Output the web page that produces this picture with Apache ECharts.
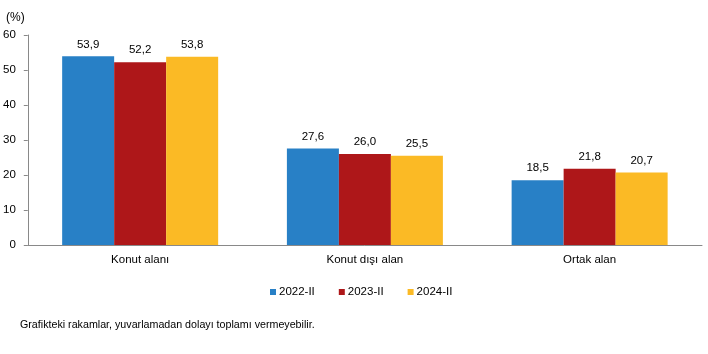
<!DOCTYPE html>
<html>
<head>
<meta charset="utf-8">
<script src="https://cdn.jsdelivr.net/npm/echarts@6/dist/echarts.min.js"></script>
<style>
  html, body { margin: 0; padding: 0; background: #fff; }
  #chart { width: 708px; height: 354px; }
</style>
</head>
<body>
<div id="chart"></div>
<script>
const kategoriler = ['Konut alanı', 'Konut dışı alan', 'Ortak alan'];
const donem2022 = [53.9, 27.6, 18.5];
const donem2023 = [52.2, 26.0, 21.8];
const donem2024 = [53.8, 25.5, 20.7];
const yTicks = [0, 10, 20, 30, 40, 50, 60];

const renkler = ['#2880C6', '#AE1719', '#FBBA25'];
const yaziTipi = 'Liberation Sans, Arial, sans-serif';

let grafik = echarts.init(document.getElementById('chart'));

const etiket = {
    show: true,
    position: 'top',
    distance: 6,
    color: '#000',
    fontFamily: yaziTipi,
    fontSize: 11.5,
    formatter: (p) => p.value.toFixed(1).replace('.', ',')
};

function seri(ad, veri, renk) {
    return {
        name: ad,
        type: 'bar',
        data: veri,
        barWidth: 52,
        barGap: '0%',
        itemStyle: { color: renk },
        label: etiket
    };
}

const option = {
    animation: false,
    textStyle: { fontFamily: yaziTipi },
    title: [{
        text: '(%)',
        left: 6,
        top: 12,
        padding: 0,
        textStyle: { fontSize: 12, fontWeight: 'normal', color: '#000', fontFamily: yaziTipi }
    }, {
        text: 'Grafikteki rakamlar, yuvarlamadan dolayı toplamı vermeyebilir.',
        left: 20,
        top: 320,
        padding: 0,
        textStyle: { fontSize: 10.7, fontWeight: 'normal', color: '#000', fontFamily: yaziTipi }
    }],
    legend: {
        left: 270,
        top: 286,
        padding: 0,
        itemWidth: 6,
        itemHeight: 6,
        itemGap: 24,
        icon: 'rect',
        textStyle: { fontSize: 11.5, color: '#000', fontFamily: yaziTipi, padding: [0, 0, 0, -2] },
        data: ['2022-II', '2023-II', '2024-II']
    },
    grid: {
        left: 27,
        right: 6,
        top: 35,
        bottom: 109
    },
    xAxis: {
        type: 'category',
        data: kategoriler,
        axisLine: { lineStyle: { color: '#898989' } },
        axisTick: { show: false },
        axisLabel: { color: '#000', fontSize: 11.5, margin: 9, fontFamily: yaziTipi }
    },
    yAxis: {
        type: 'value',
        min: yTicks[0],
        max: yTicks[yTicks.length - 1],
        interval: 10,
        axisLine: { show: true, lineStyle: { color: '#898989' } },
        axisTick: { show: true, length: 4, lineStyle: { color: '#898989' } },
        axisLabel: { color: '#000', fontSize: 11.5, margin: 12, fontFamily: yaziTipi },
        splitLine: { show: false }
    },
    series: [
        seri('2022-II', donem2022, renkler[0]),
        seri('2023-II', donem2023, renkler[1]),
        seri('2024-II', donem2024, renkler[2])
    ]
};

option && grafik.setOption(option);
window.addEventListener('resize', grafik.resize);
</script>
</body>
</html>
